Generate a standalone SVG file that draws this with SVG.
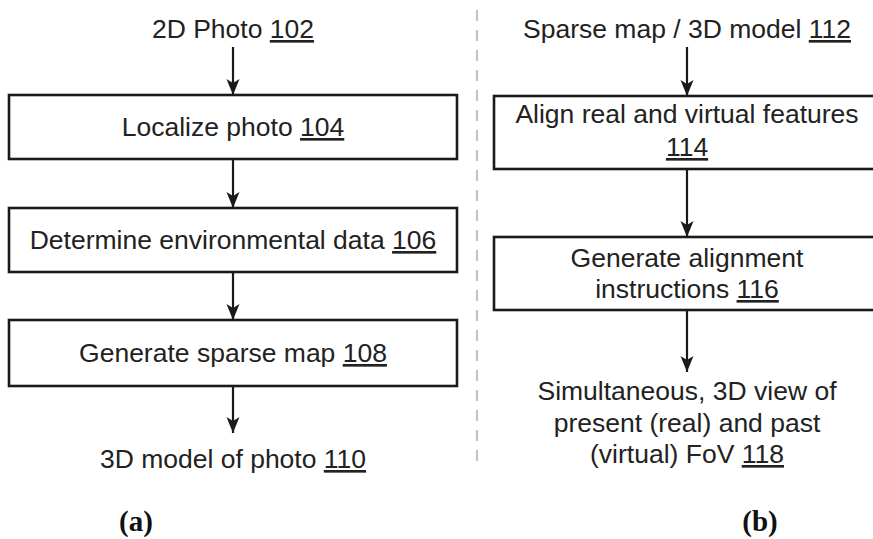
<svg xmlns="http://www.w3.org/2000/svg" width="873" height="539" viewBox="0 0 873 539">
<defs>
<style>
.box{fill:#fff;stroke:#1a1a1a;stroke-width:2.6}
.t{font-family:"Liberation Sans",Arial,sans-serif;font-size:26.5px;fill:#222;text-anchor:middle}
.n{text-decoration:underline}
.lab{font-family:"Liberation Serif","Times New Roman",serif;font-size:29px;font-weight:bold;fill:#111;text-anchor:middle}
.c{stroke:#1a1a1a;stroke-width:2.2;fill:none;marker-end:url(#ah)}
.sep{stroke:#c4c4c4;stroke-width:2.2;stroke-dasharray:11 9}
</style>
<marker id="ah" markerUnits="userSpaceOnUse" viewBox="0 0 16 14" refX="16" refY="7" markerWidth="16" markerHeight="14" orient="auto">
<path d="M0,0.5 L16,7 L0,13.5 L4,7 z" fill="#1a1a1a"/>
</marker>
</defs>
<rect width="873" height="539" fill="#fff"/>
<line class="sep" x1="477" y1="10" x2="477" y2="465"/>
<g id="n102"><text class="t" x="233" y="38">2D Photo <tspan class="n">102</tspan></text></g>
<g id="n104"><rect class="box" x="9" y="95" width="448" height="64"/><text class="t" x="233" y="136">Localize photo <tspan class="n">104</tspan></text></g>
<g id="n106"><rect class="box" x="9" y="208" width="448" height="64"/><text class="t" x="233" y="249">Determine environmental data <tspan class="n">106</tspan></text></g>
<g id="n108"><rect class="box" x="9" y="320" width="448" height="66"/><text class="t" x="233" y="362">Generate sparse map <tspan class="n">108</tspan></text></g>
<g id="n110"><text class="t" x="233" y="468">3D model of photo <tspan class="n">110</tspan></text></g>
<g id="n112"><text class="t" x="687" y="38">Sparse map / 3D model <tspan class="n">112</tspan></text></g>
<g id="n114"><rect class="box" x="494" y="96" width="390" height="73"/><text class="t" x="687" y="123">Align real and virtual features</text><text class="t" x="687" y="156"><tspan class="n">114</tspan></text></g>
<g id="n116"><rect class="box" x="494" y="237" width="390" height="73"/><text class="t" x="687" y="267">Generate alignment</text><text class="t" x="687" y="298">instructions <tspan class="n">116</tspan></text></g>
<g id="n118"><text class="t" x="687" y="400">Simultaneous, 3D view of</text><text class="t" x="687" y="432">present (real) and past</text><text class="t" x="687" y="463">(virtual) FoV <tspan class="n">118</tspan></text></g>
<g id="connectors">
<line class="c" x1="233" y1="47" x2="233" y2="95"/>
<line class="c" x1="233" y1="159" x2="233" y2="208"/>
<line class="c" x1="233" y1="272" x2="233" y2="320"/>
<line class="c" x1="233" y1="386" x2="233" y2="433"/>
<line class="c" x1="687" y1="47" x2="687" y2="96"/>
<line class="c" x1="687" y1="169" x2="687" y2="237"/>
<line class="c" x1="687" y1="310" x2="687" y2="372"/>
</g>
<text class="lab" x="136" y="531">(a)</text>
<text class="lab" x="760" y="531">(b)</text>
</svg>
